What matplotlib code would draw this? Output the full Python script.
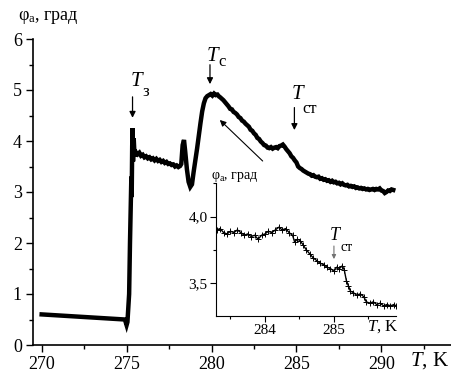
import matplotlib
matplotlib.use("Agg")
import matplotlib.pyplot as plt
from matplotlib.ticker import MultipleLocator, FixedLocator, FixedFormatter

plt.rcParams['font.family'] = ['Liberation Serif', 'DejaVu Serif']
plt.rcParams['mathtext.fontset'] = 'custom'
plt.rcParams['mathtext.rm'] = 'Liberation Serif'
plt.rcParams['mathtext.it'] = 'Liberation Serif:italic'

# ---- main curve: temperature (K) and phi_a (deg) ----
main_T = [270.0, 272.0, 274.0, 274.9, 275.0, 275.05, 275.15, 275.2, 275.25, 275.28,
          275.3, 275.33, 275.35, 275.38, 275.42, 275.47, 275.55, 275.65, 275.75, 275.85,
          275.95, 276.05, 276.15, 276.25, 276.35, 276.45, 276.55, 276.65, 276.75, 276.85,
          276.95, 277.05, 277.15, 277.25, 277.35, 277.45, 277.55, 277.65, 277.75, 277.85,
          277.95, 278.05, 278.15, 278.22, 278.3, 278.38, 278.45, 278.55,
          278.65, 278.75, 278.85, 278.95, 279.05, 279.15, 279.25, 279.35, 279.45, 279.55,
          279.65, 279.75, 279.85, 279.95, 280.05, 280.15, 280.25, 280.35, 280.45,
          280.5, 280.6, 280.7, 280.8, 280.9, 281.0, 281.1, 281.2, 281.3, 281.4,
          281.5, 281.6, 281.7, 281.8, 281.9, 282.0, 282.1, 282.2, 282.3, 282.4,
          282.5, 282.6, 282.7, 282.8, 282.9, 283.0, 283.1, 283.2, 283.3, 283.4,
          283.5, 283.6, 283.7, 283.8, 283.9, 284.0, 284.1, 284.2, 284.3, 284.4,
          284.5, 284.6, 284.7, 284.8, 284.9, 285.0, 285.1, 285.2, 285.3, 285.4,
          285.5, 285.6, 285.7, 285.8, 285.9, 286.0, 286.1, 286.2, 286.3, 286.4,
          286.5, 286.6, 286.7, 286.8, 286.9, 287.0, 287.1, 287.2, 287.3, 287.4,
          287.5, 287.6, 287.7, 287.8, 287.9, 288.0, 288.1, 288.2, 288.3, 288.4,
          288.5, 288.6, 288.7, 288.8, 288.9, 289.0, 289.1, 289.2, 289.3, 289.4,
          289.5, 289.6, 289.7, 289.8, 289.9, 290.0, 290.1, 290.2, 290.3, 290.4,
          290.5, 290.6, 290.7]
main_phi = [0.60, 0.56, 0.52, 0.50, 0.39, 0.45, 1.00, 2.00, 2.80, 3.30,
            2.90, 3.90, 4.25, 3.60, 4.05, 3.70, 3.78, 3.74, 3.77, 3.71,
            3.73, 3.68, 3.70, 3.66, 3.68, 3.64, 3.66, 3.62, 3.65, 3.61,
            3.63, 3.59, 3.61, 3.57, 3.59, 3.55, 3.56, 3.53, 3.54, 3.50,
            3.52, 3.49, 3.51, 3.55, 3.92, 4.02, 3.80, 3.45,
            3.20, 3.10, 3.15, 3.40, 3.62, 3.85, 4.10, 4.35, 4.58, 4.74,
            4.84, 4.88, 4.90, 4.92, 4.89, 4.93, 4.90, 4.91, 4.87,
            4.86, 4.83, 4.80, 4.76, 4.72, 4.68, 4.63, 4.62, 4.57, 4.55,
            4.52, 4.47, 4.45, 4.40, 4.38, 4.34, 4.31, 4.28, 4.22, 4.20,
            4.15, 4.12, 4.06, 4.04, 3.99, 3.96, 3.92, 3.91, 3.87, 3.86,
            3.88, 3.85, 3.87, 3.88, 3.86, 3.90, 3.91, 3.93, 3.89, 3.84,
            3.80, 3.76, 3.70, 3.67, 3.62, 3.58, 3.50, 3.47, 3.45, 3.42,
            3.40, 3.38, 3.36, 3.35, 3.32, 3.33, 3.30, 3.29, 3.30, 3.26,
            3.27, 3.24, 3.25, 3.22, 3.23, 3.20, 3.22, 3.19, 3.20, 3.17,
            3.18, 3.15, 3.17, 3.14, 3.13, 3.14, 3.11, 3.12, 3.10, 3.11,
            3.08, 3.09, 3.07, 3.08, 3.06, 3.07, 3.05, 3.06, 3.04, 3.05,
            3.06, 3.04, 3.06, 3.05, 3.07, 3.03, 3.02, 2.98, 3.00, 3.03,
            3.02, 3.05, 3.04]

# ---- inset curve ----
ins_T = [283.30, 283.35, 283.40, 283.45, 283.50, 283.55, 283.60, 283.65, 283.70, 283.75,
         283.80, 283.85, 283.90, 283.95, 284.00, 284.05, 284.10, 284.15, 284.20, 284.25,
         284.30, 284.35, 284.40, 284.43, 284.47, 284.51, 284.55, 284.60, 284.65, 284.70,
         284.75, 284.80, 284.85, 284.90, 284.95, 285.00, 285.04, 285.08, 285.12, 285.15,
         285.18, 285.21, 285.24, 285.28, 285.33, 285.38, 285.43, 285.47, 285.52, 285.57,
         285.62, 285.67, 285.72, 285.77, 285.82, 285.87, 285.90]
ins_phi = [3.90, 3.91, 3.88, 3.87, 3.89, 3.88, 3.90, 3.88, 3.86, 3.87,
           3.85, 3.86, 3.83, 3.86, 3.87, 3.89, 3.88, 3.90, 3.92, 3.90,
           3.91, 3.88, 3.86, 3.81, 3.83, 3.82, 3.79, 3.75, 3.72, 3.69,
           3.67, 3.65, 3.64, 3.62, 3.61, 3.59, 3.62, 3.61, 3.63, 3.60,
           3.52, 3.48, 3.44, 3.43, 3.41, 3.42, 3.40, 3.36, 3.35, 3.36,
           3.34, 3.35, 3.33, 3.34, 3.33, 3.34, 3.33]

main_xticks = [270, 275, 280, 285, 290]
main_yticks = [0, 1, 2, 3, 4, 5, 6]
ins_xticks = [284, 285]
ins_yticks = [3.5, 4.0]
ins_ytick_labels = ['3,5', '4,0']

W, H = 451, 374
fig = plt.figure(figsize=(W / 100, H / 100), dpi=100)
ax = fig.add_axes([33 / W, 29 / H, (W - 33) / W, (345 - 39) / H])
ax.plot(main_T, main_phi, color='black', lw=3.2, solid_joinstyle='miter')
ax.set_xlim(269.49, 294.1)
ax.set_ylim(0, 6)
for s in ['top', 'right']:
    ax.spines[s].set_visible(False)
ax.spines['left'].set_linewidth(1.2)
ax.spines['bottom'].set_linewidth(1.2)
ax.xaxis.set_major_locator(FixedLocator(main_xticks))
ax.yaxis.set_major_locator(FixedLocator(main_yticks))
ax.xaxis.set_minor_locator(MultipleLocator(2.5))
ax.yaxis.set_minor_locator(MultipleLocator(0.5))
ax.tick_params(which='major', direction='out', length=5, width=1, labelsize=13, pad=3)
ax.tick_params(which='minor', direction='out', length=3, width=1)

fig.text(18 / W, 1 - 18 / H, r'φ$_\mathrm{a}$, град', fontsize=13, ha='left', va='center')
fig.text(449 / W, 1 - 361 / H, r'$T$, K', fontsize=15, ha='right', va='center')

# annotations on main axes
ax.text(275.6, 5.17, 'T', fontsize=15, style='italic', ha='center', va='center')
ax.text(276.12, 4.96, 'з', fontsize=12, ha='center', va='center')
ax.annotate('', xy=(275.35, 4.40), xytext=(275.35, 4.92),
            arrowprops=dict(arrowstyle='-|>', color='black', lw=0.9, mutation_scale=9))
ax.text(280.05, 5.66, 'T', fontsize=15, style='italic', ha='center', va='center')
ax.text(280.6, 5.55, 'с', fontsize=12, ha='center', va='center')
ax.annotate('', xy=(279.91, 5.06), xytext=(279.91, 5.55),
            arrowprops=dict(arrowstyle='-|>', color='black', lw=0.9, mutation_scale=9))
ax.text(285.05, 4.92, 'T', fontsize=15, style='italic', ha='center', va='center')
ax.text(285.8, 4.63, 'ст', fontsize=12, ha='center', va='center')
ax.annotate('', xy=(284.88, 4.16), xytext=(284.88, 4.71),
            arrowprops=dict(arrowstyle='-|>', color='black', lw=0.9, mutation_scale=9))
ax.annotate('', xy=(280.37, 4.45), xytext=(283.13, 3.57),
            arrowprops=dict(arrowstyle='-|>', color='black', lw=0.8, mutation_scale=9))

# inset
ins = fig.add_axes([216 / W, 1 - 315.7 / H, 180 / W, (315.7 - 183.3) / H])
ins.patch.set_alpha(0)
ins.plot(ins_T, ins_phi, color='black', lw=1.0, marker='+', ms=4, mew=0.7)
ins.set_xlim(283.29, 285.90)
ins.set_ylim(3.256, 4.25)
for s in ['top', 'right']:
    ins.spines[s].set_visible(False)
ins.xaxis.set_major_locator(FixedLocator(ins_xticks))
ins.yaxis.set_major_locator(FixedLocator(ins_yticks))
ins.yaxis.set_major_formatter(FixedFormatter(ins_ytick_labels))
ins.xaxis.set_minor_locator(MultipleLocator(0.5))
ins.yaxis.set_minor_locator(MultipleLocator(0.25))
ins.tick_params(which='major', direction='out', length=4, width=0.8, labelsize=11, pad=2)
ins.tick_params(which='minor', direction='out', length=2.5, width=0.8)
ins.text(285.01, 3.86, 'T', fontsize=13, style='italic', ha='center', va='center')
ins.text(285.18, 3.77, 'ст', fontsize=10, ha='center', va='center')
ins.annotate('', xy=(285.0, 3.66), xytext=(285.0, 3.80),
             arrowprops=dict(arrowstyle='-|>', color='0.45', lw=0.8, mutation_scale=6))
fig.text(211 / W, 1 - 177 / H, r'φ$_\mathrm{a}$, град', fontsize=10, ha='left', va='center')
fig.text(398 / W, 1 - 327 / H, r'$T$, K', fontsize=12, ha='right', va='center')

fig.savefig('out.png', dpi=100)
